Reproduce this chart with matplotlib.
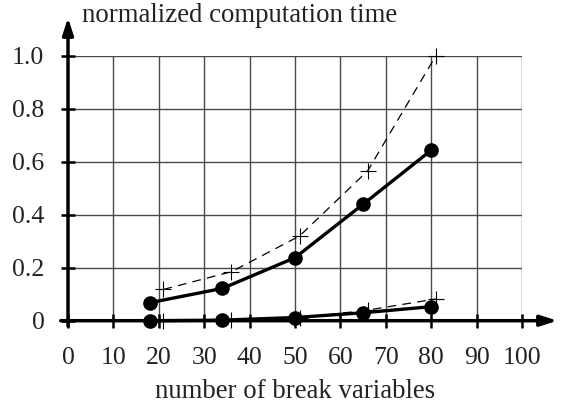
import matplotlib
matplotlib.use("Agg")
import matplotlib.pyplot as plt

# data
x_circ = [18, 34, 50, 65, 80]
y_circ_upper = [0.068, 0.122, 0.238, 0.44, 0.644]
y_circ_lower = [0.0, 0.002, 0.012, 0.03, 0.053]
x_plus = [21, 36, 51, 66, 81]
y_plus_upper = [0.118, 0.185, 0.32, 0.566, 1.0]
y_plus_lower = [0.0, 0.002, 0.01, 0.04, 0.082]
x_ticks = [0, 10, 20, 30, 40, 50, 60, 70, 80, 90, 100]
y_ticks = [0, 0.2, 0.4, 0.6, 0.8, 1.0]
y_tick_labels = ["0", "0.2", "0.4", "0.6", "0.8", "1.0"]
title = "normalized computation time"
xlabel = "number of break variables"

plt.rcParams['font.family'] = ['Liberation Serif', 'DejaVu Serif']
W, H = 564, 405
fig = plt.figure(figsize=(W / 100, H / 100), dpi=100)
x0p, x1p = 68, 522
y0p, y1p = 320.7, 56
ax = fig.add_axes([x0p / W, (H - y0p) / H, (x1p - x0p) / W, (y0p - y1p) / H])
ax.set_xlim(0, 100)
ax.set_ylim(0, 1)
for s in ax.spines.values():
    s.set_visible(False)

gc = '#4a4a4a'
for xv in x_ticks[1:]:
    ax.plot([xv, xv], [0, 1], color=gc, lw=1.0, zorder=1)
for yv in y_ticks[1:]:
    ax.plot([0, 100], [yv, yv], color=gc, lw=1.0, zorder=1)

ax.set_xticks(x_ticks)
ax.set_xticklabels([str(v) for v in x_ticks])
ax.set_yticks(y_ticks)
ax.set_yticklabels(y_tick_labels)
ax.tick_params(axis='both', direction='inout', length=10, width=1.8, color='black',
               labelsize=18.5, labelcolor='#222222')
ax.tick_params(axis='x', pad=14)
ax.tick_params(axis='y', pad=12)

# axes arrows
ax.annotate('', xy=(107.8, 0), xytext=(-1.6, 0), xycoords='data',
            arrowprops=dict(arrowstyle='-|>,head_length=1.0,head_width=0.32', lw=2.5,
                            color='black', shrinkA=0, shrinkB=0), annotation_clip=False, zorder=5)
ax.annotate('', xy=(0, 1.145), xytext=(0, -0.02), xycoords='data',
            arrowprops=dict(arrowstyle='-|>,head_length=1.0,head_width=0.32', lw=2.5,
                            color='black', shrinkA=0, shrinkB=0), annotation_clip=False, zorder=5)

# series
for yy in (y_plus_upper, y_plus_lower):
    ax.plot(x_plus, yy, color='black', lw=0.9, ls=(0, (7, 5)), marker='+', ms=12,
            mew=0.8, clip_on=False, zorder=3)
for yy in (y_circ_upper, y_circ_lower):
    ax.plot(x_circ, yy, color='black', lw=2.4, marker='o', ms=9.5, clip_on=False, zorder=4)

fig.text(82 / W, 1 - 15 / H, title, fontsize=19.3, color='#222222', ha='left', va='center')
fig.text(295 / W, 1 - 391 / H, xlabel, fontsize=19.3, color='#222222', ha='center', va='center')

fig.savefig('out.png', dpi=100)
